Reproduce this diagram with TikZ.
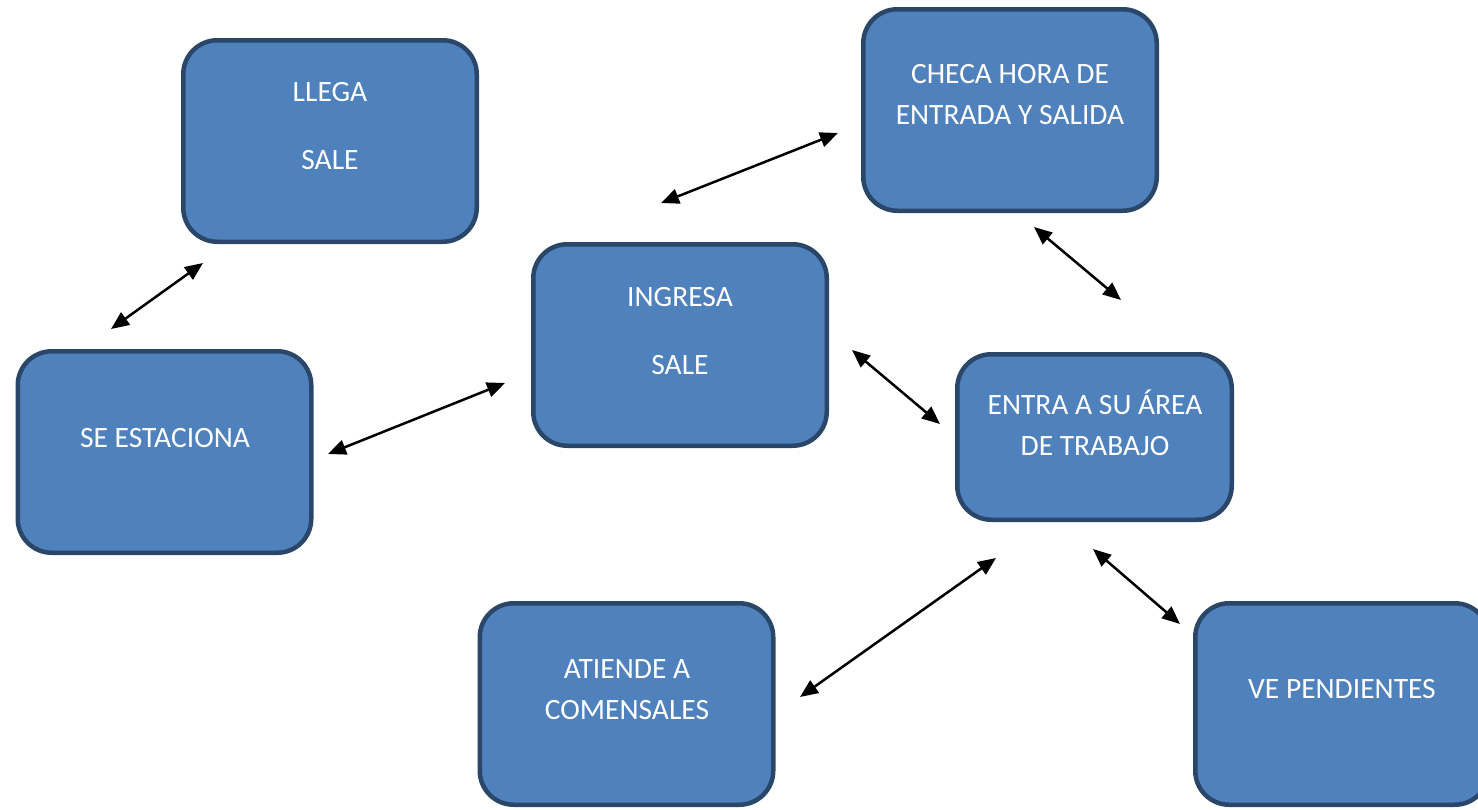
\documentclass[tikz,border=0pt]{standalone}
\usepackage{fontspec}
\setmainfont{Carlito}
\usetikzlibrary{arrows.meta}
\definecolor{boxfill}{HTML}{4F81BD}
\definecolor{boxedge}{HTML}{2A4669}
\begin{document}
\begin{tikzpicture}[x=1pt,y=-1pt,
  box/.style={draw=boxedge,fill=boxfill,line width=4.5pt,rounded corners=34pt,
    inner sep=0pt,minimum width=293.5pt,minimum height=201.5pt},
  lbl/.style={text=white,font=\fontsize{29.5}{41}\selectfont,align=center,inner sep=0pt},
  link/.style={line width=2.5pt,{Triangle[length=18pt,width=15pt]}-{Triangle[length=18pt,width=15pt]}}]
\useasboundingbox (0,0) rectangle (1478,809);
\clip (0,0) rectangle (1478,809);

% process boxes
\node[box] (llega) at (330,141) {};
\node[box] (estac) at (164.5,452) {};
\node[box] (ingresa) at (680,345) {};
\node[box] (checa) at (1010,110) {};
\node[box,minimum width=274.5pt,minimum height=165.5pt] (entra) at (1094.5,437) {};
\node[box] (atiende) at (626.5,704) {};
\node[box] (ve) at (1342,704) {};

% box captions
\node[lbl] (t1a) at (330,92) {LLEGA};
\node[lbl] (t1b) at (330,160) {SALE};
\node[lbl] (t2) at (165,438) {SE ESTACIONA};
\node[lbl] (t3a) at (680,297) {INGRESA};
\node[lbl] (t3b) at (680,365) {SALE};
\node[lbl] (t4) at (1010,95) {CHECA HORA DE\\ENTRADA Y SALIDA};
\node[lbl] (t5) at (1095,423) {ENTRA A SU ÁREA\\DE TRABAJO};
\node[lbl] (t6) at (627,690) {ATIENDE A\\COMENSALES};
\node[lbl] (t7) at (1342,689) {VE PENDIENTES};

% connector end points
\coordinate (a1) at (203,263); \coordinate (a2) at (111,329);
\coordinate (b1) at (328,454); \coordinate (b2) at (505,383);
\coordinate (c1) at (661,203); \coordinate (c2) at (838,133);
\coordinate (d1) at (1034,227); \coordinate (d2) at (1121,300);
\coordinate (e1) at (852,350); \coordinate (e2) at (940,424);
\coordinate (f1) at (996,558); \coordinate (f2) at (800,697);
\coordinate (g1) at (1093,549); \coordinate (g2) at (1180,624);

% two-way connectors
\draw[link] (a1) -- (a2);
\draw[link] (b1) -- (b2);
\draw[link] (c1) -- (c2);
\draw[link] (d1) -- (d2);
\draw[link] (e1) -- (e2);
\draw[link] (f1) -- (f2);
\draw[link] (g1) -- (g2);
\end{tikzpicture}
\end{document}
